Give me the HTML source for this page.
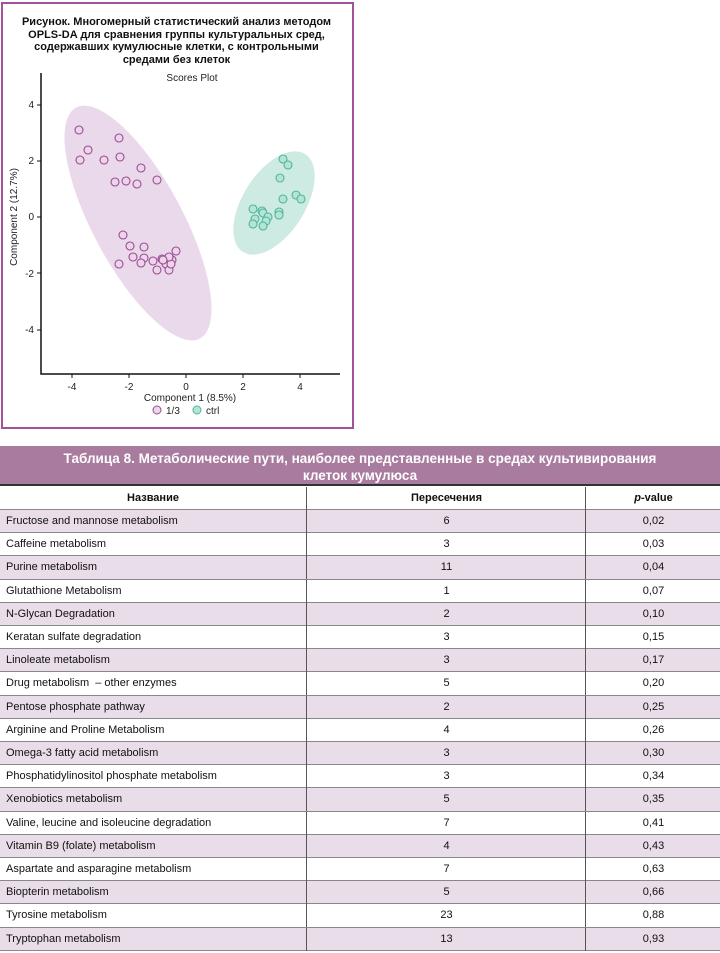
<!DOCTYPE html>
<html><head><meta charset="utf-8"><style>
body{margin:0;width:720px;height:953px;background:#fff;position:relative;font-family:"Liberation Sans","DejaVu Sans",sans-serif;overflow:hidden}
.fig{position:absolute;left:1px;top:2px;width:349px;height:423px;border:2px solid #a0529a;}
.title{position:absolute;left:0;top:16px;width:353px;text-align:center;font-weight:bold;font-size:11px;line-height:12.6px;color:#111}
.th{position:absolute;left:0;top:446px;width:720px;height:40px;background:#a97b9f;color:#fff;font-family:"Liberation Sans Narrow","Liberation Sans",sans-serif;font-weight:bold;font-size:13.5px;text-align:center;line-height:17px;padding-top:4px;box-sizing:border-box;border-bottom:2px solid #333}
.row{position:absolute;left:0;width:720px;height:23.2px;border-bottom:1px solid #888;box-sizing:border-box;font-size:11px;color:#111}
.row div{position:absolute;top:0;line-height:22px}
.c1{left:6px}
.c2{left:306px;width:279px;text-align:center;border-left:1.5px solid #555;height:23px}
.c3{left:585px;width:135px;text-align:center;border-left:1.5px solid #555;height:23px}
.sh{background:#e9dde9}
.hd{font-weight:bold}
</style></head><body>
<div class="fig"></div>
<div class="title">Рисунок. Многомерный статистический анализ методом<br>OPLS-DA для сравнения группы культуральных сред,<br>содержавших кумулюсные клетки, с контрольными<br>средами без клеток</div>
<svg style="position:absolute;left:0;top:0" width="353" height="427" font-family="Liberation Sans, sans-serif">
<text x="192" y="81" font-size="10" text-anchor="middle" fill="#222">Scores Plot</text>
<ellipse cx="138" cy="223" rx="131" ry="45" transform="rotate(61.8 138 223)" fill="#ead9ea"/>
<ellipse cx="274" cy="203" rx="58" ry="31" transform="rotate(-57.5 274 203)" fill="#cdebe3"/>
<g fill="#ecd4ea" stroke="#9a4c91" stroke-width="1.1">
<circle cx="79" cy="130" r="4"/><circle cx="119" cy="138" r="4"/><circle cx="88" cy="150" r="4"/><circle cx="80" cy="160" r="4"/><circle cx="104" cy="160" r="4"/><circle cx="120" cy="157" r="4"/><circle cx="141" cy="168" r="4"/><circle cx="115" cy="182" r="4"/><circle cx="126" cy="181" r="4"/><circle cx="137" cy="184" r="4"/><circle cx="157" cy="180" r="4"/><circle cx="123" cy="235" r="4"/><circle cx="130" cy="246" r="4"/><circle cx="144" cy="247" r="4"/><circle cx="133" cy="257" r="4"/><circle cx="144" cy="258" r="4"/><circle cx="119" cy="264" r="4"/><circle cx="141" cy="263" r="4"/><circle cx="153" cy="261" r="4"/><circle cx="162" cy="259" r="4"/><circle cx="157" cy="270" r="4"/><circle cx="166" cy="264" r="4"/><circle cx="169" cy="270" r="4"/><circle cx="172" cy="260" r="4"/><circle cx="171" cy="264" r="4"/><circle cx="176" cy="251" r="4"/><circle cx="169" cy="257" r="4"/><circle cx="163" cy="260" r="4"/>
</g>
<g fill="#b5e3d6" stroke="#4fb59c" stroke-width="1.1">
<circle cx="283" cy="159" r="4"/><circle cx="288" cy="165" r="4"/><circle cx="280" cy="178" r="4"/><circle cx="296" cy="195" r="4"/><circle cx="301" cy="199" r="4"/><circle cx="283" cy="199" r="4"/><circle cx="253" cy="209" r="4"/><circle cx="262" cy="211" r="4"/><circle cx="263" cy="213" r="4"/><circle cx="279" cy="212" r="4"/><circle cx="279" cy="215" r="4"/><circle cx="255" cy="219" r="4"/><circle cx="268" cy="217" r="4"/><circle cx="266" cy="221" r="4"/><circle cx="253" cy="224" r="4"/><circle cx="263" cy="226" r="4"/>
</g>
<g stroke="#111" stroke-width="1.5" fill="none"><path d="M41 73V374H340"/></g>
<g stroke="#111" stroke-width="1"><path d="M37 105H41M37 161H41M37 217H41M37 273H41M37 330H41M72 374V378M129 374V378M186 374V378M243 374V378M300 374V378"/></g>
<g font-size="10" fill="#222" text-anchor="end"><text x="34" y="108">4</text><text x="34" y="164">2</text><text x="34" y="220">0</text><text x="34" y="277">-2</text><text x="34" y="333">-4</text></g>
<g font-size="10" fill="#222" text-anchor="middle"><text x="72" y="390">-4</text><text x="129" y="390">-2</text><text x="186" y="390">0</text><text x="243" y="390">2</text><text x="300" y="390">4</text></g>
<text x="190" y="401" font-size="10" text-anchor="middle" fill="#222">Component 1 (8.5%)</text>
<text transform="translate(17 217) rotate(-90)" font-size="10" text-anchor="middle" fill="#222">Component 2 (12.7%)</text>
<circle cx="157" cy="410" r="4" fill="#ecd4ea" stroke="#9a4c91"/><text x="166" y="414" font-size="10" fill="#222">1/3</text>
<circle cx="197" cy="410" r="4" fill="#b5e3d6" stroke="#4fb59c"/><text x="206" y="414" font-size="10" fill="#222">ctrl</text>
</svg>
<div class="th">Таблица 8. Метаболические пути, наиболее представленные в средах культивирования<br>клеток кумулюса</div>
<div class="row hd" style="top:487px"><div style="left:0;width:306px;text-align:center">Название</div><div class="c2">Пересечения</div><div class="c3"><i>p</i>-value</div></div>
<div class="row sh" style="top:510px"><div class="c1">Fructose and mannose metabolism</div><div class="c2">6</div><div class="c3">0,02</div></div>
<div class="row" style="top:533.2px"><div class="c1">Caffeine metabolism</div><div class="c2">3</div><div class="c3">0,03</div></div>
<div class="row sh" style="top:556.4px"><div class="c1">Purine metabolism</div><div class="c2">11</div><div class="c3">0,04</div></div>
<div class="row" style="top:579.6px"><div class="c1">Glutathione Metabolism</div><div class="c2">1</div><div class="c3">0,07</div></div>
<div class="row sh" style="top:602.8px"><div class="c1">N-Glycan Degradation</div><div class="c2">2</div><div class="c3">0,10</div></div>
<div class="row" style="top:626px"><div class="c1">Keratan sulfate degradation</div><div class="c2">3</div><div class="c3">0,15</div></div>
<div class="row sh" style="top:649.2px"><div class="c1">Linoleate metabolism</div><div class="c2">3</div><div class="c3">0,17</div></div>
<div class="row" style="top:672.4px"><div class="c1">Drug metabolism &nbsp;– other enzymes</div><div class="c2">5</div><div class="c3">0,20</div></div>
<div class="row sh" style="top:695.6px"><div class="c1">Pentose phosphate pathway</div><div class="c2">2</div><div class="c3">0,25</div></div>
<div class="row" style="top:718.8px"><div class="c1">Arginine and Proline Metabolism</div><div class="c2">4</div><div class="c3">0,26</div></div>
<div class="row sh" style="top:742px"><div class="c1">Omega-3 fatty acid metabolism</div><div class="c2">3</div><div class="c3">0,30</div></div>
<div class="row" style="top:765.2px"><div class="c1">Phosphatidylinositol phosphate metabolism</div><div class="c2">3</div><div class="c3">0,34</div></div>
<div class="row sh" style="top:788.4px"><div class="c1">Xenobiotics metabolism</div><div class="c2">5</div><div class="c3">0,35</div></div>
<div class="row" style="top:811.6px"><div class="c1">Valine, leucine and isoleucine degradation</div><div class="c2">7</div><div class="c3">0,41</div></div>
<div class="row sh" style="top:834.8px"><div class="c1">Vitamin B9 (folate) metabolism</div><div class="c2">4</div><div class="c3">0,43</div></div>
<div class="row" style="top:858px"><div class="c1">Aspartate and asparagine metabolism</div><div class="c2">7</div><div class="c3">0,63</div></div>
<div class="row sh" style="top:881.2px"><div class="c1">Biopterin metabolism</div><div class="c2">5</div><div class="c3">0,66</div></div>
<div class="row" style="top:904.4px"><div class="c1">Tyrosine metabolism</div><div class="c2">23</div><div class="c3">0,88</div></div>
<div class="row sh" style="top:927.6px"><div class="c1">Tryptophan metabolism</div><div class="c2">13</div><div class="c3">0,93</div></div>
</body></html>
